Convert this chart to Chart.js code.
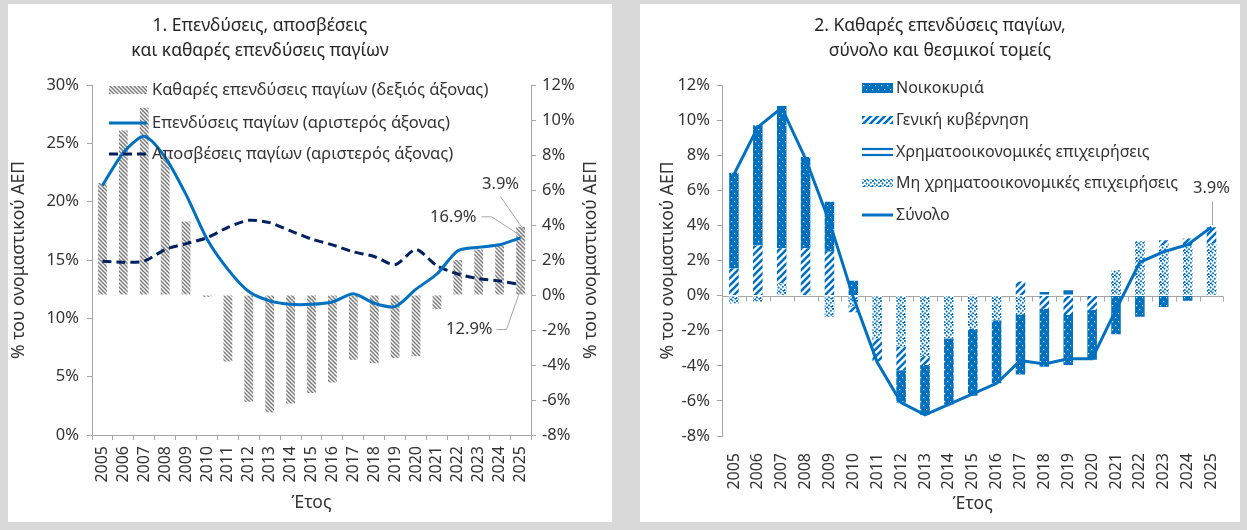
<!DOCTYPE html>
<html><head><meta charset="utf-8">
<script src="https://cdn.jsdelivr.net/npm/chart.js@4.4.1/dist/chart.umd.min.js"></script>
<style>
html,body{margin:0;padding:0;}
body{width:1247px;height:530px;background:#d9d9d9;position:relative;overflow:hidden;font-family:'Noto Sans',sans-serif;}
.panel{position:absolute;background:#fff;}
#p1{left:8px;top:4px;width:604px;height:518px;}
#p2{left:640px;top:4px;width:600px;height:518px;}
.title{position:absolute;top:8px;transform:translateX(-50%);text-align:center;font-size:17.5px;line-height:25px;color:#262626;white-space:nowrap;}
canvas{position:absolute;left:0;top:0;}
</style></head>
<body>
<div class="panel" id="p1"><canvas id="c1" width="604" height="518"></canvas><div class="title" style="left:252px">1. Επενδύσεις, αποσβέσεις<br>και καθαρές επενδύσεις παγίων</div></div>
<div class="panel" id="p2"><canvas id="c2" width="600" height="518"></canvas><div class="title" style="left:300px">2. Καθαρές επενδύσεις παγίων,<br>σύνολο και θεσμικοί τομείς</div></div>
<script>
// ---------- DATA ----------
const years = ['2005','2006','2007','2008','2009','2010','2011','2012','2013','2014','2015','2016','2017','2018','2019','2020','2021','2022','2023','2024','2025'];
// Chart 1 (% of nominal GDP)
const netInvestment   = [6.4, 9.4, 10.7, 7.9, 4.2, -0.1, -3.8, -6.1, -6.7, -6.2, -5.6, -5.0, -3.7, -3.9, -3.6, -3.5, -0.8, 2.0, 2.6, 2.9, 3.9];
const grossInvestment = [21.4, 24.2, 25.6, 23.8, 20.6, 16.8, 14.2, 12.3, 11.5, 11.2, 11.2, 11.4, 12.1, 11.3, 11.0, 12.5, 13.8, 15.8, 16.1, 16.3, 16.9];
const depreciation    = [14.9, 14.8, 14.9, 15.9, 16.4, 16.9, 17.8, 18.4, 18.2, 17.5, 16.8, 16.3, 15.7, 15.3, 14.6, 15.9, 14.5, 13.8, 13.4, 13.2, 12.9];
// Chart 2 (% of nominal GDP)
const households        = [5.45, 6.85, 8.1, 5.2, 2.85, 0.85, 0, -1.85, -2.85, -3.75, -3.8, -3.6, -3.4, -3.3, -2.85, -2.85, -2.2, -1.2, -0.65, -0.3, 0];
const government        = [1.55, 2.85, 2.0, 2.7, 2.5, -0.3, -1.3, -1.35, -0.45, 0, 0, 0, 0.8, -0.75, -1.1, -0.8, 0, 0, 0.3, 0.45, 0.95];
const financialCorps    = [0, 0, 0, 0, 0, 0, 0, 0, 0, 0, 0.05, 0, 0, 0.2, 0.3, 0, 0, 0, 0, 0, 0];
const nonFinancialCorps = [-0.45, -0.35, 0.7, 0, -1.2, -0.65, -2.45, -2.9, -3.5, -2.45, -1.9, -1.4, -1.1, 0, 0, 0, 1.45, 3.1, 2.85, 2.8, 2.95];
const totalNet          = [6.9, 9.6, 10.7, 7.8, 4.2, -0.1, -3.8, -6.1, -6.8, -6.2, -5.6, -5.0, -3.7, -3.9, -3.6, -3.6, -0.8, 1.9, 2.5, 2.9, 3.9];
// axis / legend texts
const yTitle = '% του ονομαστικού ΑΕΠ';
const xTitle = 'Έτος';
const legend1 = ['Καθαρές επενδύσεις παγίων (δεξιός άξονας)','Επενδύσεις παγίων (αριστερός άξονας)','Αποσβέσεις παγίων (αριστερός άξονας)'];
const legend2 = ['Νοικοκυριά','Γενική κυβέρνηση','Χρηματοοικονομικές επιχειρήσεις','Μη χρηματοοικονομικές επιχειρήσεις','Σύνολο'];

// ---------- STYLE ----------
const BLUE='#0070C0', NAVY='#002060', HATCH='#7a7a7a', AXIS='#a6a6a6', TXT='#333333', LEAD='#a6a6a6';
const FONT="'Noto Sans', sans-serif";
Chart.defaults.font.family = FONT;
Chart.defaults.font.size = 16.5;
Chart.defaults.color = TXT;
Chart.defaults.animation = false;
const yearFont = {size:16};

function tile(w,h,fn){const c=document.createElement('canvas');c.width=w;c.height=h;fn(c.getContext('2d'),w,h);return c;}
const ctx1=document.getElementById('c1').getContext('2d');
const ctx2=document.getElementById('c2').getContext('2d');
const hatchTile = tile(4,4,(x)=>{x.fillStyle='#fff';x.fillRect(0,0,4,4);x.strokeStyle=HATCH;x.lineWidth=1.5;x.beginPath();x.moveTo(-1,-1);x.lineTo(5,5);x.moveTo(-1,3);x.lineTo(1,5);x.moveTo(3,-1);x.lineTo(5,1);x.stroke();});
const hhTile = tile(6,8,(x)=>{x.fillStyle=BLUE;x.fillRect(0,0,6,8);x.fillStyle='#fff';x.fillRect(1,1,1.2,1.2);x.fillRect(4,5,1.2,1.2);});
const govTile = tile(7,7,(x)=>{x.fillStyle='#fff';x.fillRect(0,0,7,7);x.strokeStyle=BLUE;x.lineWidth=2.6;x.beginPath();x.moveTo(-1,8);x.lineTo(8,-1);x.moveTo(-1,1);x.lineTo(1,-1);x.moveTo(6,8);x.lineTo(8,6);x.stroke();});
const finTile = tile(4,6,(x)=>{x.fillStyle=BLUE;x.fillRect(0,0,4,6);x.fillStyle='#fff';x.fillRect(0,2.5,4,1.2);});
const nfTile = tile(8,8,(x)=>{x.fillStyle='#fff';x.fillRect(0,0,8,8);x.fillStyle=BLUE;
  [[1,1],[4.5,0.6],[6.8,2.8],[2.6,3.6],[5,5.2],[0.6,6],[3.2,7.3],[7.3,6.8]].forEach(p=>{x.beginPath();x.arc(p[0],p[1],1.05,0,Math.PI*2);x.fill();});});
const pats1 = {hatch: ctx1.createPattern(hatchTile,'repeat')};
const pats2 = {hh: ctx2.createPattern(hhTile,'repeat'), gov: ctx2.createPattern(govTile,'repeat'), fin: ctx2.createPattern(finTile,'repeat'), nf: ctx2.createPattern(nfTile,'repeat')};

function rotText(ctx,text,x,y){ctx.save();ctx.translate(x,y);ctx.rotate(-Math.PI/2);ctx.textAlign='center';ctx.textBaseline='middle';ctx.fillText(text,0,0);ctx.restore();}
function poly(ctx,pts,color,w){ctx.save();ctx.strokeStyle=color;ctx.lineWidth=w||1;ctx.beginPath();pts.forEach((p,i)=>i?ctx.lineTo(p[0],p[1]):ctx.moveTo(p[0],p[1]));ctx.stroke();ctx.restore();}
const pct = v => v.toFixed(1)+'%';

const axisCommon = (extra)=>Object.assign({
  grid:{display:true,drawOnChartArea:false,drawTicks:true,tickLength:5,color:AXIS,lineWidth:1},
  border:{display:true,color:AXIS,width:1},
},extra);

// ---------- CHART 1 ----------
const extras1 = {
  id:'extras1',
  afterDraw(chart){
    const c=chart.ctx, a=chart.chartArea, xs=chart.scales.x, yl=chart.scales.y, yr=chart.scales.y2;
    c.save();
    c.fillStyle=TXT; c.font='17.5px '+FONT;
    const cy=(a.top+a.bottom)/2;
    rotText(c,yTitle,11,cy);
    rotText(c,yTitle,583,cy);
    c.textAlign='center';c.textBaseline='middle';
    c.fillText(xTitle,(a.left+a.right)/2,499);
    // legend
    c.font='16.5px '+FONT;
    const sx0=101, sx1=139, tx=144, rows=[86,119,150];
    c.fillStyle=pats1.hatch; c.fillRect(sx0,rows[0]-4,sx1-sx0,8);
    poly(c,[[sx0,rows[1]],[sx1,rows[1]]],BLUE,3);
    c.save();c.setLineDash([9,5]);poly(c,[[sx0,rows[2]],[sx1,rows[2]]],NAVY,3);c.restore();
    c.fillStyle=TXT;c.textAlign='left';
    legend1.forEach((t,i)=>c.fillText(t,tx,rows[i]));
    // annotations at last year
    const n=years.length-1, x25=xs.getPixelForValue(n);
    const yNet=yr.getPixelForValue(netInvestment[n]), yInv=yl.getPixelForValue(grossInvestment[n]), yDep=yl.getPixelForValue(depreciation[n]);
    c.textAlign='center';
    c.fillText(pct(netInvestment[n]), x25-20, yNet-42);
    poly(c,[[x25-20,yNet-30],[x25+3,yNet+3]],LEAD,1);
    c.textAlign='right';
    c.fillText(pct(grossInvestment[n]), x25-44, yInv-21);
    poly(c,[[x25-39,yInv-21],[x25-29,yInv-21],[x25+2,yInv-1]],LEAD,1);
    c.fillText(pct(depreciation[n]), x25-28, yDep+45);
    poly(c,[[x25-24,yDep+45],[x25-14,yDep+45],[x25+1,yDep+2]],LEAD,1);
    c.restore();
  }
};
new Chart(ctx1,{
  type:'bar',
  data:{labels:years,datasets:[
    {type:'bar',label:legend1[0],data:netInvestment,yAxisID:'y2',backgroundColor:pats1.hatch,barPercentage:0.42,categoryPercentage:1,order:2},
    {type:'line',label:legend1[1],data:grossInvestment,yAxisID:'y',borderColor:BLUE,borderWidth:3,pointRadius:0,tension:0.25,order:0},
    {type:'line',label:legend1[2],data:depreciation,yAxisID:'y',borderColor:NAVY,borderWidth:3,borderDash:[9,5],pointRadius:0,tension:0.25,order:1}
  ]},
  options:{
    responsive:false,maintainAspectRatio:false,
    layout:{padding:{top:81,right:21,left:0,bottom:0}},
    plugins:{legend:{display:false},tooltip:{enabled:false},title:{display:false}},
    scales:{
      x:axisCommon({ticks:{minRotation:90,maxRotation:90,autoSkip:false,padding:6,color:TXT,font:yearFont},afterFit(s){s.height=87;}}),
      y:axisCommon({position:'left',min:0,max:30,ticks:{stepSize:5,padding:8,callback:v=>v+'%',color:TXT},afterFit(s){s.width=84;}}),
      y2:axisCommon({position:'right',min:-8,max:12,ticks:{stepSize:2,padding:6,callback:v=>v+'%',color:TXT},afterFit(s){s.width=60;}})
    }
  },
  plugins:[extras1]
});

// ---------- CHART 2 ----------
const extras2 = {
  id:'extras2',
  beforeDatasetsDraw(chart){
    const c=chart.ctx,a=chart.chartArea,ys=chart.scales.y;
    const y0=Math.round(ys.getPixelForValue(0))+0.5;
    const n=years.length, w=(a.right-a.left)/n;
    c.save();c.strokeStyle=AXIS;c.lineWidth=1;c.beginPath();
    c.moveTo(a.left,y0);c.lineTo(a.right,y0);
    for(let i=0;i<=n;i++){const x=Math.round(a.left+i*w)+0.5;c.moveTo(x,y0);c.lineTo(x,y0+5);}
    c.stroke();c.restore();
  },
  afterDraw(chart){
    const c=chart.ctx,a=chart.chartArea,xs=chart.scales.x,ys=chart.scales.y;
    c.save();c.fillStyle=TXT;c.font='17.5px '+FONT;
    rotText(c,yTitle,28,(a.top+a.bottom)/2);
    c.textAlign='center';c.textBaseline='middle';
    c.fillText(xTitle,(a.left+a.right)/2,500);
    // legend
    c.font='16px '+FONT;
    const sx0=222,sx1=253,tx=256,rows=[84,116,148,179,211];
    c.fillStyle=pats2.hh;c.fillRect(sx0,rows[0]-5,sx1-sx0,10);
    c.fillStyle=pats2.gov;c.fillRect(sx0,rows[1]-4,sx1-sx0,8);
    poly(c,[[sx0,rows[2]-3],[sx1,rows[2]-3]],BLUE,2.2);
    poly(c,[[sx0,rows[2]+3],[sx1,rows[2]+3]],BLUE,2.2);
    c.fillStyle=pats2.nf;c.fillRect(sx0,rows[3]-4,sx1-sx0,8);
    poly(c,[[sx0,rows[4]],[sx1,rows[4]]],BLUE,3);
    c.fillStyle=TXT;c.textAlign='left';
    legend2.forEach((t,i)=>c.fillText(t,tx,rows[i]));
    // annotation
    c.font='16.5px '+FONT;
    const n=years.length-1,x25=xs.getPixelForValue(n),yT=ys.getPixelForValue(totalNet[n]);
    c.textAlign='center';
    c.fillText(pct(totalNet[n]),x25,yT-39);
    poly(c,[[x25+1,yT-26],[x25+1,yT-2]],LEAD,1);
    c.restore();
  }
};
new Chart(ctx2,{
  type:'bar',
  data:{labels:years,datasets:[
    {type:'bar',label:legend2[0],data:households,backgroundColor:pats2.hh,stack:'s',order:4,barPercentage:0.4,categoryPercentage:1},
    {type:'bar',label:legend2[1],data:government,backgroundColor:pats2.gov,stack:'s',order:3,barPercentage:0.4,categoryPercentage:1},
    {type:'bar',label:legend2[2],data:financialCorps,backgroundColor:pats2.fin,stack:'s',order:2,barPercentage:0.4,categoryPercentage:1},
    {type:'bar',label:legend2[3],data:nonFinancialCorps,backgroundColor:pats2.nf,stack:'s',order:1,barPercentage:0.4,categoryPercentage:1},
    {type:'line',label:legend2[4],data:totalNet,borderColor:BLUE,borderWidth:3,pointRadius:0,tension:0,stack:'t',order:0}
  ]},
  options:{
    responsive:false,maintainAspectRatio:false,
    layout:{padding:{top:81,right:12,left:0,bottom:0}},
    plugins:{legend:{display:false},tooltip:{enabled:false},title:{display:false}},
    scales:{
      x:{stacked:true,grid:{display:false},border:{display:false},ticks:{minRotation:90,maxRotation:90,autoSkip:false,padding:9,color:TXT,font:yearFont},afterFit(s){s.height=86;}},
      y:axisCommon({stacked:true,position:'left',min:-8,max:12,ticks:{stepSize:2,padding:7,callback:v=>v+'%',color:TXT},afterFit(s){s.width=82;}})
    }
  },
  plugins:[extras2]
});
</script>
</body></html>
